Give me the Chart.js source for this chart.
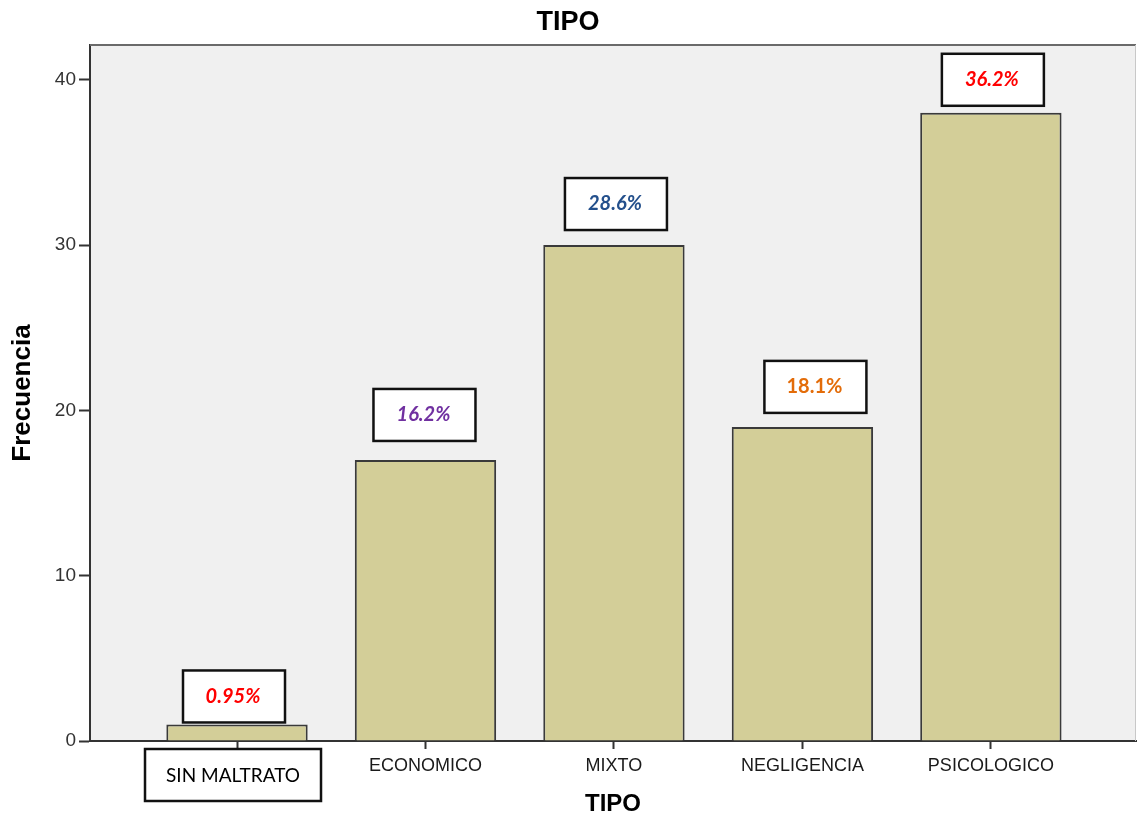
<!DOCTYPE html>
<html>
<head>
<meta charset="utf-8">
<title>TIPO</title>
<script src="https://cdn.jsdelivr.net/npm/chart.js@4/dist/chart.umd.min.js"></script>
<style>
  html, body { margin: 0; padding: 0; background: #ffffff; }
  #wrap { width: 1137px; height: 816px; }
</style>
</head>
<body>
<div id="wrap"><canvas id="chart" width="1137" height="816"></canvas></div>
<script>
// Categories and frequencies
const categories = ['SIN MALTRATO', 'ECONOMICO', 'MIXTO', 'NEGLIGENCIA', 'PSICOLOGICO'];
const counts = [1, 17, 30, 19, 38];
const yTicks = [0, 10, 20, 30, 40];

// Percentage badge styling
const badgeColors = ['#ff0000', '#7030a0', '#24508c', '#e36c09', '#ff0000'];
const badgeItalic = [true, true, true, false, true];
// small hand nudges of each badge: [dx, gap above bar]
const badgeNudge = [[-3, 2], [-1, 19], [2, 15], [13, 14], [2, 7]];

const total = counts.reduce((a, b) => a + b, 0);
const pctText = counts.map(v => {
  const p = v / total * 100;
  return (p < 1 ? p.toFixed(2) : p.toFixed(1)) + '%';
});

const plotBg = {
  id: 'plotBg',
  beforeDraw(chart) {
    const { ctx, chartArea: a } = chart;
    ctx.save();
    ctx.fillStyle = '#f0f0f0';
    ctx.fillRect(a.left, a.top, a.right - a.left, a.bottom - a.top);
    ctx.restore();
  },
  afterDraw(chart) {
    const { ctx, chartArea: a } = chart;
    ctx.save();
    // top frame line
    ctx.strokeStyle = '#6a6a6a';
    ctx.lineWidth = 2;
    ctx.beginPath();
    ctx.moveTo(a.left, a.top);
    ctx.lineTo(a.right, a.top);
    ctx.stroke();
    // right frame line
    ctx.strokeStyle = '#c8c8c8';
    ctx.lineWidth = 1;
    ctx.beginPath();
    ctx.moveTo(a.right - 0.5, a.top);
    ctx.lineTo(a.right - 0.5, a.bottom);
    ctx.stroke();
    ctx.restore();
  }
};

const badges = {
  id: 'badges',
  afterDatasetsDraw(chart) {
    const { ctx, chartArea: a } = chart;
    const meta = chart.getDatasetMeta(0);
    ctx.save();
    meta.data.forEach((bar, i) => {
      const w = 102, h = 52;
      const cx = bar.x + badgeNudge[i][0];
      const bottom = bar.y - badgeNudge[i][1];
      ctx.fillStyle = '#ffffff';
      ctx.fillRect(cx - w / 2, bottom - h, w, h);
      ctx.strokeStyle = '#111111';
      ctx.lineWidth = 2.5;
      ctx.strokeRect(cx - w / 2, bottom - h, w, h);
      ctx.fillStyle = badgeColors[i];
      ctx.font = (badgeItalic[i] ? 'italic ' : '') + 'bold 20px Lato, "Open Sans", sans-serif';
      ctx.textAlign = 'center';
      ctx.textBaseline = 'middle';
      ctx.fillText(pctText[i], cx - 1, bottom - h / 2);
    });

    // boxed label for the first category
    const xs = chart.scales.x;
    const cx0 = xs.getPixelForValue(0) - 4;
    const bw = 176, bh = 52, top = a.bottom + 8;
    ctx.fillStyle = '#ffffff';
    ctx.fillRect(cx0 - bw / 2, top, bw, bh);
    ctx.strokeStyle = '#111111';
    ctx.lineWidth = 2.5;
    ctx.strokeRect(cx0 - bw / 2, top, bw, bh);
    ctx.fillStyle = '#000000';
    ctx.font = '19px Lato, "Open Sans", sans-serif';
    ctx.textAlign = 'center';
    ctx.textBaseline = 'middle';
    ctx.fillText(categories[0], cx0, top + bh / 2 + 1);
    ctx.restore();
  }
};

new Chart(document.getElementById('chart'), {
  type: 'bar',
  data: {
    datasets: [{
      data: categories.map((c, i) => ({ x: i, y: counts[i] })),
      backgroundColor: '#d3ce98',
      borderColor: '#3a3a3a',
      borderWidth: 2,
      barPercentage: 0.75,
      categoryPercentage: 1
    }]
  },
  options: {
    responsive: false,
    devicePixelRatio: 1,
    animation: false,
    layout: { padding: { left: 0, right: 1, top: 0, bottom: 0 } },
    plugins: {
      legend: { display: false },
      tooltip: { enabled: false },
      title: {
        display: true,
        text: 'TIPO',
        color: '#000000',
        font: { family: '"Liberation Sans", Arial, sans-serif', size: 27, weight: 'bold', lineHeight: 1.2 },
        padding: { top: 6, bottom: 6.6 }
      }
    },
    scales: {
      x: {
        type: 'linear',
        offset: false,
        min: -0.78,
        max: 4.77,
        afterBuildTicks(scale) {
          scale.ticks = categories.map((c, i) => ({ value: i }));
        },
        afterFit(scale) { scale.height = 75; },
        ticks: {
          autoSkip: false,
          maxRotation: 0,
          padding: 6,
          color: '#1a1a1a',
          font: { family: '"Liberation Sans", Arial, sans-serif', size: 18 },
          callback: (v) => (v === 0 ? '' : categories[v])
        },
        grid: { offset: false, drawOnChartArea: false, drawTicks: true, tickLength: 8, tickColor: '#333333', tickWidth: 2 },
        border: { display: true, color: '#333333', width: 2 },
        title: {
          display: true,
          text: 'TIPO',
          color: '#000000',
          font: { family: '"Liberation Sans", Arial, sans-serif', size: 24, weight: 'bold', lineHeight: 1 },
          padding: { top: 0, bottom: 0 }
        }
      },
      y: {
        min: 0,
        max: 42.1,
        afterBuildTicks(scale) {
          scale.ticks = yTicks.map(v => ({ value: v }));
        },
        afterFit(scale) { scale.width = 90; },
        ticks: {
          padding: 3,
          color: '#333333',
          font: { family: '"Liberation Sans", Arial, sans-serif', size: 19 }
        },
        grid: { drawOnChartArea: false, drawTicks: true, tickLength: 11, tickColor: '#333333', tickWidth: 2 },
        border: { display: true, color: '#333333', width: 2 },
        title: {
          display: true,
          text: 'Frecuencia',
          color: '#000000',
          font: { family: '"Liberation Sans", Arial, sans-serif', size: 26, weight: 'bold', lineHeight: 1 },
          padding: { top: 10, bottom: 0 }
        }
      }
    }
  },
  plugins: [plotBg, badges]
});
</script>
</body>
</html>
